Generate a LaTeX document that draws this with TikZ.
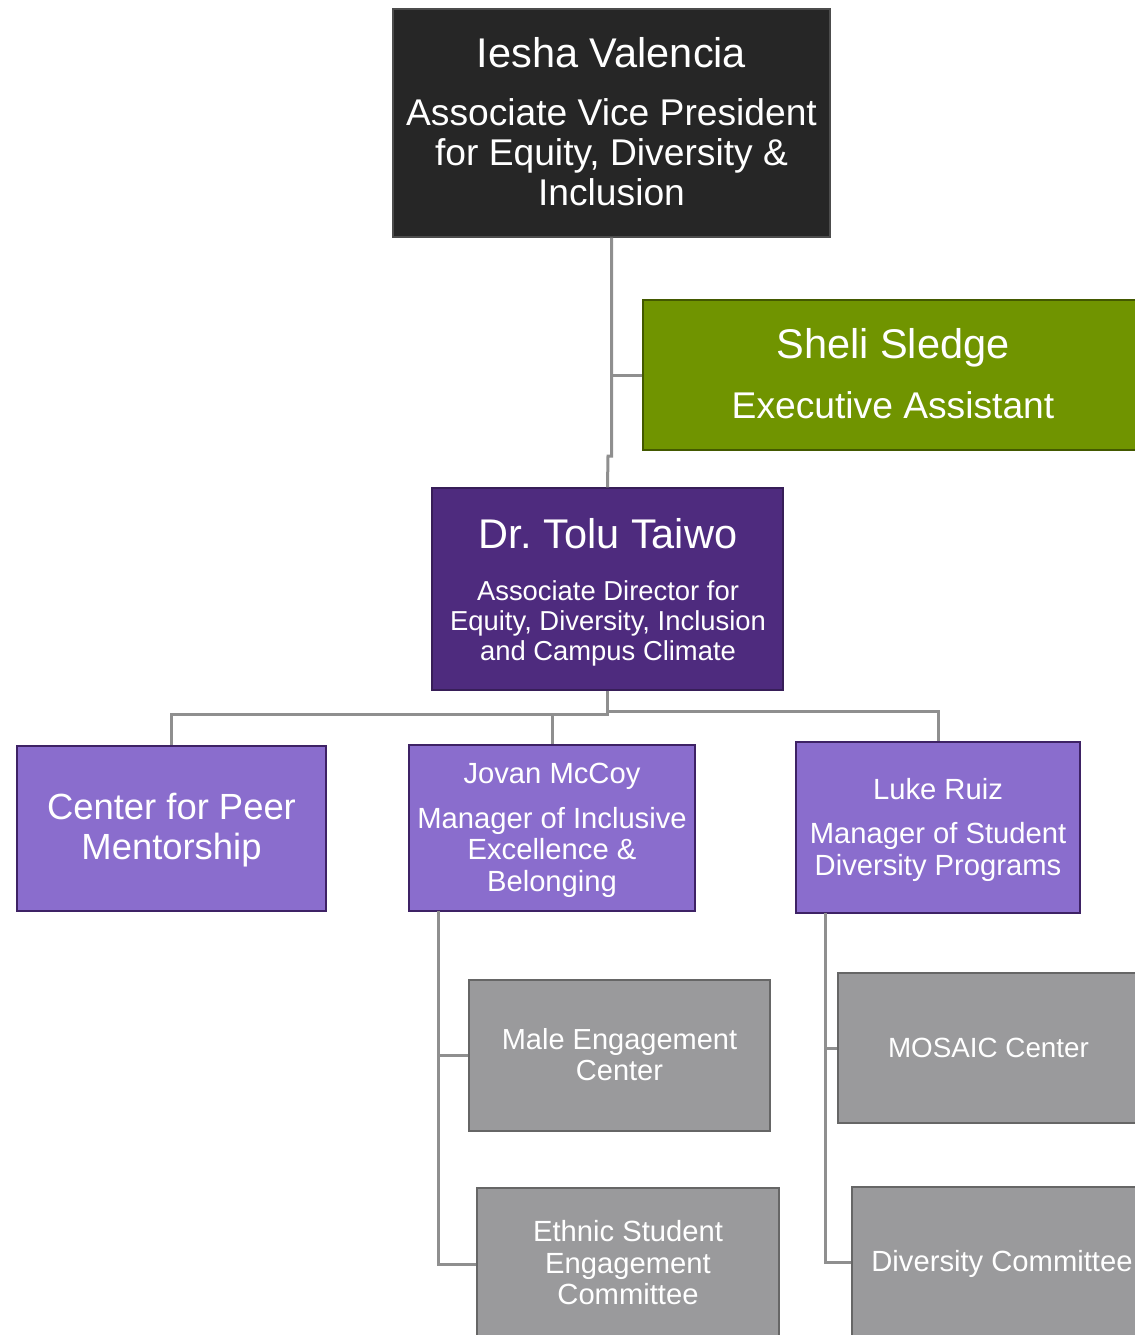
\documentclass[tikz,border=0pt]{standalone}
\usepackage{fontspec}
\setmainfont{Liberation Sans}
\usetikzlibrary{fit}
\definecolor{topc}{HTML}{262626}
\definecolor{greenc}{HTML}{709400}
\definecolor{darkp}{HTML}{4E2B7E}
\definecolor{lightp}{HTML}{8A6DCD}
\definecolor{greyc}{HTML}{9A9A9C}
\definecolor{connc}{HTML}{8F8F8F}
\newcommand{\fs}[1]{\fontsize{#1pt}{#1pt}\selectfont}
\tikzset{
  box/.style={rectangle, inner sep=0pt, line width=0.6pt},
  topbox/.style={box, fill=topc, draw=black!70},
  greenbox/.style={box, fill=greenc, draw=greenc!60!black},
  darkbox/.style={box, fill=darkp, draw=darkp!70!black},
  lightbox/.style={box, fill=lightp, draw=darkp!80!black},
  greybox/.style={box, fill=greyc, draw=black!60},
  conn/.style={draw=connc, line width=1.5pt},
  lbl/.style={anchor=base, text=white, inner sep=0pt},
}
\begin{document}
\begin{tikzpicture}[x=0.5pt,y=-0.5pt]
\useasboundingbox (0,0) rectangle (1135,1335);
\clip (0,0) rectangle (1135,1335);
% coordinates for connectors
\coordinate (jog) at (608,456);
\coordinate (bus1) at (0,714);
\coordinate (bus2) at (0,711);
\coordinate (jv) at (438,911);
\coordinate (lv) at (825,913);
% boxes
\node[topbox, fit={(393,9) (830,237)}] (top) {};
\node[greenbox, fit={(643,300) (1145,450)}] (green) {};
\node[darkbox, fit={(432,488) (783,690)}] (tolu) {};
\node[lightbox, fit={(17,746) (326,911)}] (cpm) {};
\node[lightbox, fit={(409,745) (695,911)}] (jovan) {};
\node[lightbox, fit={(796,742) (1080,913)}] (luke) {};
\node[greybox, fit={(469,980) (770,1131)}] (male) {};
\node[greybox, fit={(477,1188) (779,1340)}] (ethnic) {};
\node[greybox, fit={(838,973) (1145,1123)}] (mosaic) {};
\node[greybox, fit={(852,1187) (1145,1337)}] (divc) {};
% connectors
\draw[conn] (top.south) -- (top.south |- jog) -- (jog) -- (tolu.north);
\draw[conn] (green.west) -- (green.west -| top.south);
\draw[conn] (tolu.south) -- (tolu.south |- bus1) -| (cpm.north);
\draw[conn] (tolu.south |- bus1) -| (jovan.north);
\draw[conn] (tolu.south) -- (tolu.south |- bus2) -| (luke.north);
\draw[conn] (jv) |- (male.west);
\draw[conn] (jv) |- (ethnic.west);
\draw[conn] (lv) |- (mosaic.west);
\draw[conn] (lv) |- (divc.west);
% texts
\node[lbl, font=\fs{20.75}] (t1) at (611.5,67) {Iesha Valencia};
\node[lbl, font=\fs{18.6}] (t2) at (611.5,125) {Associate Vice President};
\node[lbl, font=\fs{18.6}] (t3) at (611.5,165) {for Equity, Diversity \&};
\node[lbl, font=\fs{18.6}] (t4) at (611.5,205) {Inclusion};
\node[lbl, font=\fs{20.75}] (g1) at (893,358) {Sheli Sledge};
\node[lbl, font=\fs{18.6}] (g2) at (893,418) {Executive Assistant};
\node[lbl, font=\fs{20.75}] (d1) at (608,548) {Dr.\ Tolu Taiwo};
\node[lbl, font=\fs{13.7}] (d2) at (608,600) {Associate Director for};
\node[lbl, font=\fs{13.7}] (d3) at (608,630) {Equity, Diversity, Inclusion};
\node[lbl, font=\fs{13.7}] (d4) at (608,660) {and Campus Climate};
\node[lbl, font=\fs{18.2}] (c1) at (171.5,819) {Center for Peer};
\node[lbl, font=\fs{18.2}] (c2) at (171.5,859) {Mentorship};
\node[lbl, font=\fs{14.6}] (j1) at (552,783.5) {Jovan McCoy};
\node[lbl, font=\fs{14.6}] (j2) at (552,828.5) {Manager of Inclusive};
\node[lbl, font=\fs{14.6}] (j3) at (552,859.5) {Excellence \&};
\node[lbl, font=\fs{14.6}] (j4) at (552,891.5) {Belonging};
\node[lbl, font=\fs{14.6}] (l1) at (938,799.5) {Luke Ruiz};
\node[lbl, font=\fs{14.6}] (l2) at (938,843.5) {Manager of Student};
\node[lbl, font=\fs{14.6}] (l3) at (938,875.5) {Diversity Programs};
\node[lbl, font=\fs{14.5}] (m1) at (619.5,1049.5) {Male Engagement};
\node[lbl, font=\fs{14.5}] (m2) at (619.5,1080.5) {Center};
\node[lbl, font=\fs{14.6}] (e1) at (628,1241.5) {Ethnic Student};
\node[lbl, font=\fs{14.6}] (e2) at (628,1273.5) {Engagement};
\node[lbl, font=\fs{14.6}] (e3) at (628,1304.5) {Committee};
\node[lbl, font=\fs{13.9}] (o1) at (988.5,1057) {MOSAIC Center};
\node[lbl, font=\fs{14.6}] (v1) at (1002,1271.5) {Diversity Committee};
\end{tikzpicture}
\end{document}
